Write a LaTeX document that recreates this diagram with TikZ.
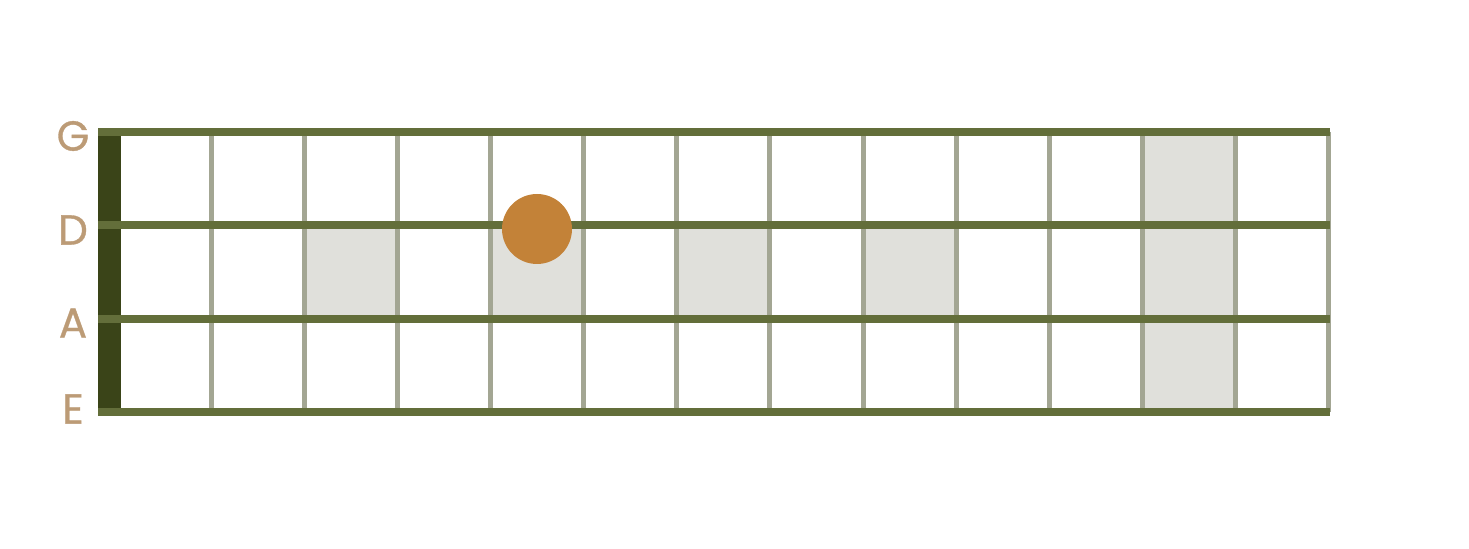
\documentclass[tikz,border=0pt]{standalone}
\usepackage{fontspec}
\setmainfont{Poppins}
\newfontfamily\labelfont[FakeBold=0.8]{Poppins}
\usepackage{xcolor}
\usepackage{tikz}

\definecolor{stringgreen}{HTML}{636E3A}
\definecolor{nutgreen}{HTML}{3A4418}
\definecolor{fretgray}{HTML}{A3A693}
\definecolor{shadegray}{HTML}{E0E0DB}
\definecolor{dotorange}{HTML}{C38238}
\definecolor{labeltan}{HTML}{BC9B76}

\begin{document}
\begin{tikzpicture}[x=0.5pt,y=-0.5pt]
	\tikzstyle{every node}=[font=\labelfont\fontsize{21}{21}\selectfont, text=labeltan]
	\tikzstyle{bassstring}=[line width=4.2pt, draw=stringgreen]
	\tikzstyle{fretwire}=[line width=2.5pt, draw=fretgray]
	\tikzstyle{shade}=[fill=shadegray]
		\useasboundingbox (0,0) rectangle (1469,549);
		% shaded cells
		\fill [shade] (304,225) rectangle (397,319);
		\fill [shade] (490,225) rectangle (583,319);
		\fill [shade] (676,225) rectangle (769,319);
		\fill [shade] (863,225) rectangle (956,319);
		\fill [shade] (1142,132) rectangle (1235,412);
		% nut
		\fill [nutgreen] (98,132) rectangle (121,412);
		% frets
		\draw [fretwire] (211,132) to (211,412);
		\draw [fretwire] (304,132) to (304,412);
		\draw [fretwire] (397,132) to (397,412);
		\draw [fretwire] (490,132) to (490,412);
		\draw [fretwire] (583,132) to (583,412);
		\draw [fretwire] (676,132) to (676,412);
		\draw [fretwire] (769,132) to (769,412);
		\draw [fretwire] (863,132) to (863,412);
		\draw [fretwire] (956,132) to (956,412);
		\draw [fretwire] (1049,132) to (1049,412);
		\draw [fretwire] (1142,132) to (1142,412);
		\draw [fretwire] (1235,132) to (1235,412);
		\draw [fretwire] (1328,132) to (1328,412);
		% strings
		\draw [bassstring] (98,132) to (1330,132);
		\draw [bassstring] (98,225) to (1330,225);
		\draw [bassstring] (98,319) to (1330,319);
		\draw [bassstring] (98,412) to (1330,412);
		% note
		\node [circle, fill=dotorange, minimum size=35pt, inner sep=0pt] (dot) at (537,229) {};
		% string names
		\node (G) at (73,136) {G};
		\node (D) at (73,230) {D};
		\node (A) at (73,323) {A};
		\node (E) at (73,409) {E};
	\end{tikzpicture}
\end{document}
